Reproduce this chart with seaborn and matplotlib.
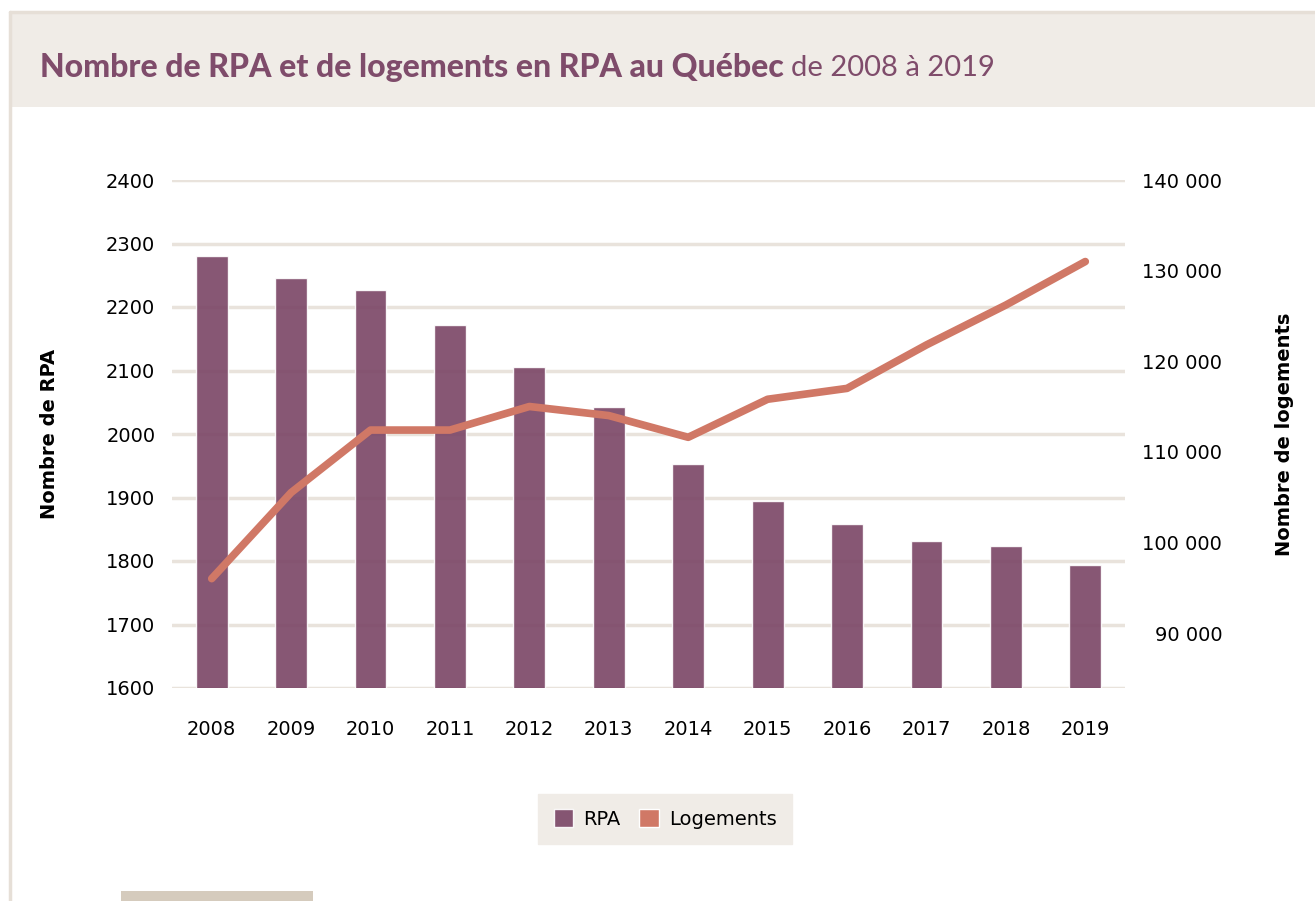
import numpy as np
import pandas as pd
import seaborn as sns
import matplotlib.pyplot as plt
from matplotlib.patches import Rectangle, Patch
from matplotlib.ticker import FuncFormatter

# data
annees = ['2008', '2009', '2010', '2011', '2012', '2013',
          '2014', '2015', '2016', '2017', '2018', '2019']
nb_rpa = [2281, 2246, 2226, 2171, 2106, 2042, 1952, 1894, 1858, 1832, 1824, 1793]
nb_logements = [96000, 105500, 112400, 112400, 115000, 114000,
                111600, 115800, 117000, 121800, 126200, 131000]

df = pd.DataFrame({'annee': annees, 'rpa': nb_rpa, 'logements': nb_logements})

violet = '#7a4565'
corail = '#d07866'
beige = '#f0ece7'
grille = '#e9e3dc'

sns.set_theme(style='white')
plt.rcParams['font.family'] = ['DejaVu Sans']

fig = plt.figure(figsize=(13.15, 9.01), dpi=100)

# title band + outer frame
fig.patches.append(Rectangle((10 / 1315, 1 - 107 / 901), 1, 95 / 901,
                             transform=fig.transFigure, facecolor=beige,
                             edgecolor='none', zorder=0))
fig.lines.append(plt.Line2D([10 / 1315, 10 / 1315], [0, 1 - 12 / 901],
                            transform=fig.transFigure, color='#e6dfd7', lw=2.5))
fig.lines.append(plt.Line2D([10 / 1315, 1], [1 - 12 / 901, 1 - 12 / 901],
                            transform=fig.transFigure, color='#e6dfd7', lw=2.5))

t1 = fig.text(40 / 1315, 1 - 68 / 901, 'Nombre de RPA et de logements en RPA au Québec',
              family='Lato', weight='black', fontsize=23, color='#7f4c6b', va='center')
fig.canvas.draw()
bb = t1.get_window_extent()
fig.text((bb.x1 + 7) / 1315, 1 - 68 / 901, 'de 2008 à 2019',
         family='Lato', fontsize=21, color='#7f4c6b', va='center')

# "Figure 9" tab cut at the bottom
fig.patches.append(Rectangle((121 / 1315, -0.02), 192 / 1315, 0.02 + 10 / 901,
                             transform=fig.transFigure, facecolor='#d5cbbd',
                             edgecolor='none'))

ax = fig.add_axes([172 / 1315, 1 - 688 / 901, (1125 - 172) / 1315, (688 - 180) / 901])
sns.barplot(data=df, x='annee', y='rpa', color=violet, alpha=0.9,
            width=0.4, saturation=1, ax=ax, zorder=3)
ax.set_ylim(1600, 2400)
ax.set_yticks(np.arange(1600, 2401, 100))
ax.set_xlim(-0.5, 11.5)
ax.yaxis.grid(True, color=grille, lw=2.5, zorder=0)
ax.set_axisbelow(True)
ax.set_xlabel('')
ax.set_ylabel('Nombre de RPA', fontsize=14, weight='bold', labelpad=34, color='black')
ax.tick_params(axis='y', length=0, pad=12, labelsize=14, labelcolor='black')
ax.tick_params(axis='x', length=0, pad=23, labelsize=14, labelcolor='black')
for s in ax.spines.values():
    s.set_visible(False)

ax2 = ax.twinx()
sns.lineplot(data=df, x='annee', y='logements', color=corail, lw=5.5,
             ax=ax2, sort=False)
ax2.set_ylim(83930, 140000)
ax2.set_yticks(np.arange(90000, 140001, 10000))
ax2.yaxis.set_major_formatter(FuncFormatter(lambda v, p: f'{int(v):,}'.replace(',', ' ')))
ax2.tick_params(axis='y', length=0, pad=70, labelsize=14, labelcolor='black')
for lab in ax2.get_yticklabels():
    lab.set_horizontalalignment('right')
ax2.set_ylabel('Nombre de logements', fontsize=14, weight='bold', labelpad=38, color='black')
ax2.grid(False)
for s in ax2.spines.values():
    s.set_visible(False)

handles = [Patch(facecolor=violet, alpha=0.9, label='RPA'),
           Patch(facecolor=corail, label='Logements')]
leg = fig.legend(handles=handles, loc='center', ncol=2,
                 bbox_to_anchor=(665 / 1315, 1 - 819 / 901),
                 frameon=True, fancybox=False, facecolor=beige, edgecolor=beige,
                 fontsize=14, handlelength=1.0, handleheight=1.0,
                 borderpad=0.8, borderaxespad=0, columnspacing=1.0, handletextpad=0.5)
leg.get_frame().set_alpha(1)
for txt in leg.get_texts():
    txt.set_color('black')

fig.savefig('out.png', dpi=100)
